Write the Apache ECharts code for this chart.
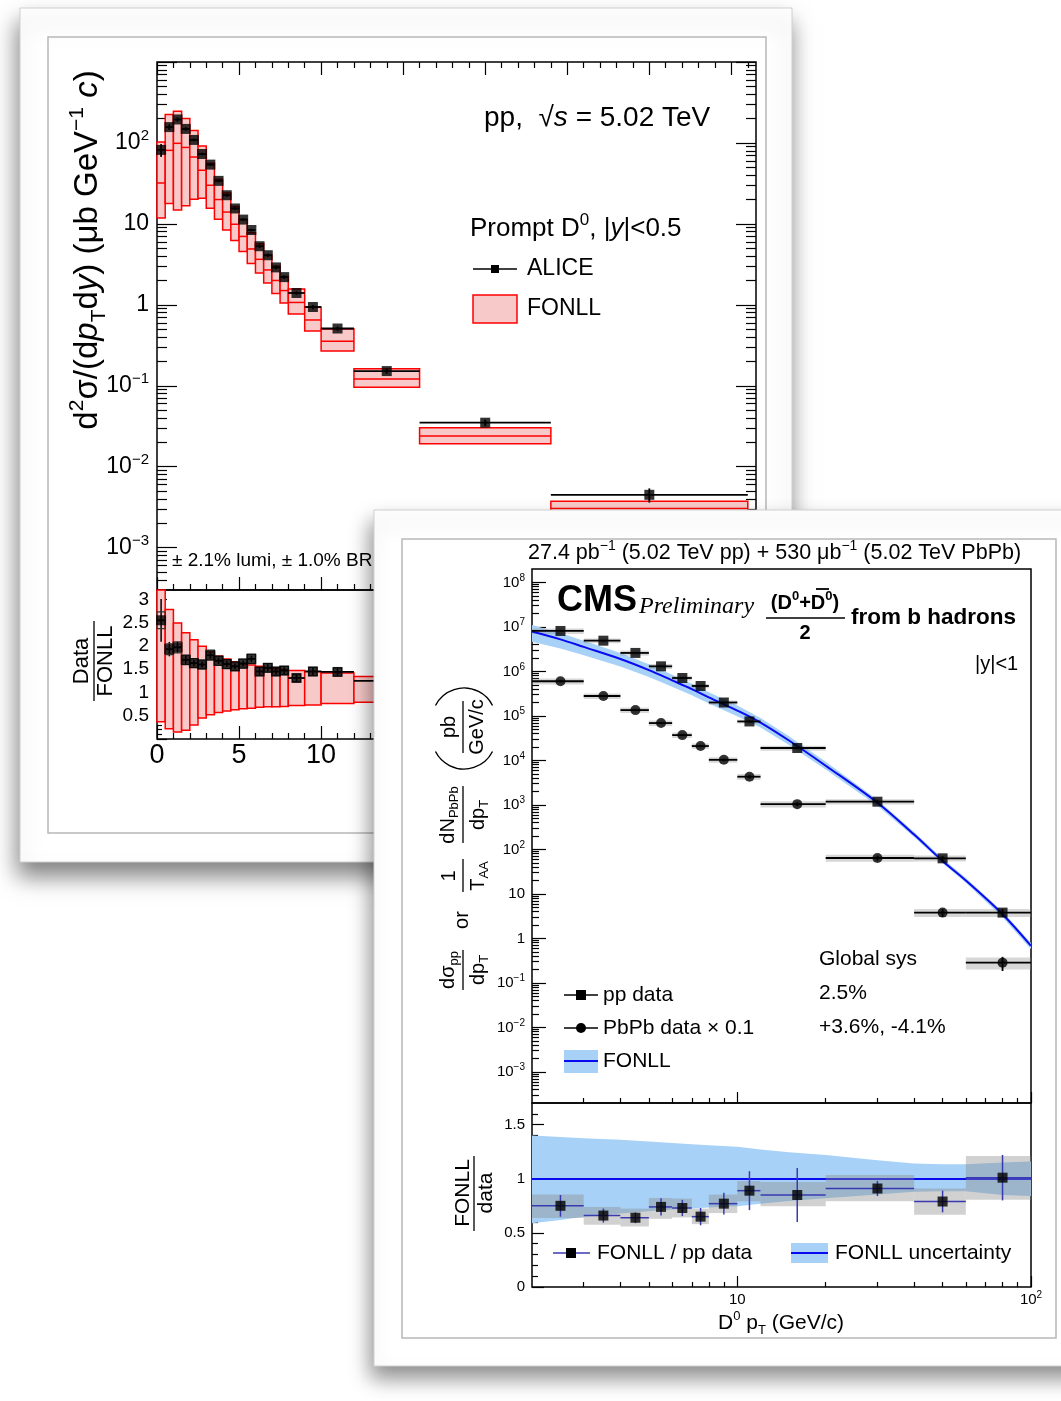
<!DOCTYPE html>
<html><head><meta charset="utf-8">
<script src="https://cdn.jsdelivr.net/npm/echarts@6/dist/echarts.min.js"></script>
<style>
html,body{margin:0;padding:0;background:#fff;}
#a,#b{position:absolute;left:0;top:0;width:1061px;height:1401px;}
</style></head><body>
<div id="a"></div><div id="b"></div>
<script>
// ================= ALICE (left card) data =================
const aliceBinLo = [0,0.5,1,1.5,2,2.5,3,3.5,4,4.5,5,5.5,6,6.5,7,7.5,8,9,10,12,16,24];
const aliceBinHi = [0.5,1,1.5,2,2.5,3,3.5,4,4.5,5,5.5,6,6.5,7,7.5,8,9,10,12,16,24,36];
const alicePt    = [0.25,0.75,1.25,1.75,2.25,2.75,3.25,3.75,4.25,4.75,5.25,5.75,6.25,6.75,7.25,7.75,8.5,9.5,11,14,20,30];
const aliceVal   = [82,157,195,149,109,73,54,34,22.6,15.5,11.3,8.4,5.3,4.1,2.9,2.2,1.4,0.94,0.51,0.152,0.035,0.0045];
const aliceErrRel= [0.18,0.08,0.06,0.05,0.04,0.04,0.04,0.04,0.04,0.04,0.04,0.04,0.05,0.05,0.05,0.05,0.05,0.06,0.06,0.07,0.09,0.2];
const aliceSysRel= [0.07,0.06,0.06,0.06,0.06,0.06,0.06,0.06,0.06,0.06,0.06,0.06,0.06,0.06,0.06,0.06,0.06,0.06,0.06,0.06,0.07,0.08];
const fonllCentral=[32,81,99,88,67,46,30,20,14,9.9,7.0,4.9,3.65,2.7,2.0,1.5,1.07,0.65,0.355,0.121,0.024,0.00305];
const fonllUpRel = [3.2,2.78,2.49,2.28,2.13,1.99,1.87,1.78,1.72,1.66,1.62,1.59,1.56,1.53,1.51,1.49,1.47,1.45,1.42,1.34,1.26,1.23];
const fonllLowRel= [0.37,0.22,0.15,0.19,0.30,0.45,0.52,0.57,0.60,0.63,0.65,0.66,0.68,0.69,0.69,0.70,0.72,0.73,0.76,0.79,0.80,0.81];
const aliceRatio = [2.55,1.93,1.97,1.70,1.63,1.60,1.80,1.68,1.61,1.56,1.62,1.72,1.45,1.53,1.45,1.47,1.31,1.45,1.44,1.25,1.46,1.47];
const leftYLabelPos = [-3,-2,-1,0,1,2];
const leftYLabels   = ['10{s|\u22123}','10{s|\u22122}','10{s|\u22121}','1','10','10{s|2}'];
const leftXLabelPos = [0,5,10,15,20,25,30,35];
const leftXLabels   = ['0','5','10','15','20','25','30','35'];
const leftRLabelPos = [0.5,1,1.5,2,2.5,3];
const leftRLabels   = ['0.5','1','1.5','2','2.5','3'];

// ================= CMS (right card) data =================
const cmsBinLo = [2,3,4,5,6,7,8,10,12,20,40,60];
const cmsBinHi = [3,4,5,6,7,8,10,12,20,40,60,100];
const cmsPt    = [2.5,3.5,4.5,5.5,6.5,7.5,9,11,16,30,50,80];
const ppVal    = [8.1e6,4.9e6,2.6e6,1.3e6,7.1e5,4.7e5,2.0e5,7.5e4,1.9e4,1.18e3,63,3.8];
const pbVal    = [6.0e5,2.8e5,1.35e5,6.9e4,3.7e4,2.1e4,1.03e4,4.3e3,1.04e3,64,3.8,0.285];
const ppErrRel = [0.03,0.03,0.03,0.03,0.03,0.04,0.04,0.05,0.06,0.08,0.12,0.2];
const pbErrRel = [0.05,0.05,0.05,0.05,0.05,0.06,0.06,0.08,0.1,0.12,0.2,0.35];
const ppSysRel = [0.14,0.12,0.13,0.13,0.12,0.11,0.11,0.10,0.13,0.13,0.15,0.20];
const pbSysRel = [0.15,0.14,0.14,0.14,0.14,0.14,0.14,0.15,0.16,0.18,0.20,0.30];
const fonllPt  = [2,2.5,3,4,5,6,7,8,10,12,15,20,30,40,50,60,80,100];
const fonllVal = [7.9e6,5.25e6,3.55e6,1.9e6,1.07e6,6.3e5,4.0e5,2.6e5,1.32e5,7.1e4,2.8e4,7.6e3,1.12e3,215,55,20,3.5,0.68];
const fonllUp  = [1.40,1.385,1.375,1.36,1.345,1.33,1.32,1.31,1.295,1.27,1.245,1.22,1.17,1.14,1.135,1.135,1.15,1.16];
const fonllLow = [0.59,0.62,0.65,0.68,0.70,0.715,0.725,0.735,0.745,0.77,0.795,0.82,0.855,0.88,0.885,0.885,0.85,0.84];
const cmsRatio    = [0.75,0.66,0.64,0.74,0.73,0.65,0.77,0.89,0.85,0.91,0.79,1.01];
const cmsRatioErr = [0.10,0.065,0.05,0.08,0.075,0.08,0.10,0.18,0.25,0.07,0.10,0.21];
const cmsRatioSysHi=[0.854,0.739,0.724,0.823,0.817,0.724,0.854,0.978,0.969,1.034,0.910,1.211];
const cmsRatioSysLo=[0.637,0.575,0.559,0.630,0.643,0.581,0.683,0.792,0.745,0.792,0.668,0.807];
const cmsYLabelPos = [-3,-2,-1,0,1,2,3,4,5,6,7,8];
const cmsYLabels   = ['10{s|\u22123}','10{s|\u22122}','10{s|\u22121}','1','10','10{s|2}','10{s|3}','10{s|4}','10{s|5}','10{s|6}','10{s|7}','10{s|8}'];
const cmsXLabelPos = [1,2];
const cmsXLabels   = ['10','10{s|2}'];
const cmsRLabelPos = [0,0.5,1,1.5];
const cmsRLabels   = ['0','0.5','1','1.5'];

// ================= helpers =================
const FF = "'Liberation Sans', Arial, Helvetica, sans-serif";
const SERIF = "'Liberation Serif', 'Times New Roman', serif";
const L10 = Math.log10;
function logMinor(lo, hi) {
  const out = [];
  for (let n = Math.floor(lo) - 1; n <= Math.ceil(hi); n++)
    for (let k = 2; k <= 9; k++) { const v = n + L10(k); if (v > lo + 1e-9 && v < hi - 1e-9) out.push(v); }
  return out;
}
function linTicks(lo, hi, step, skip) {
  const out = [];
  for (let v = lo; v <= hi + 1e-9; v += step) {
    const r = Math.round(v * 1000) / 1000;
    if (!skip || Math.abs(r / skip - Math.round(r / skip)) > 1e-6) out.push(r);
  }
  return out;
}
function richFor(size, fam, w) {
  const s = Math.round(size * 0.64);
  return {
    s: {fontSize: s, fontFamily: fam, fontWeight: w || 'normal', verticalAlign: 'top', lineHeight: s},
    b: {fontSize: s, fontFamily: fam, fontWeight: w || 'normal', verticalAlign: 'bottom', lineHeight: s},
    i: {fontSize: size, fontFamily: fam, fontStyle: 'italic', fontWeight: w || 'normal', lineHeight: Math.round(size * 1.3)}
  };
}
function T(x, y, text, o) {
  o = o || {};
  const size = o.size || 20, fam = o.family || FF;
  return {type: 'text', x, y, z: 100, rotation: o.rot || 0, silent: true,
    style: {text, fontSize: size, fontFamily: fam, fontWeight: o.weight || 'normal',
      fontStyle: o.fstyle || 'normal', fill: o.color || '#000', align: o.align || 'left',
      verticalAlign: o.va || 'middle', lineHeight: Math.round(size * 1.3), rich: richFor(size, fam, o.weight)}};
}
function Ln(x1, y1, x2, y2, color, w, z) {
  return {type: 'line', z: z || 100, silent: true, shape: {x1, y1, x2, y2}, style: {stroke: color || '#000', lineWidth: w || 1.3}};
}
const tickLS = {color: '#000', width: 1.2};
function deco(gridIndex, min, max, pos, ticks, len, label) {
  return {type: 'value', gridIndex, min, max, position: pos,
    axisLine: {show: false, onZero: false}, splitLine: {show: false},
    minorTick: {show: false}, minorSplitLine: {show: false},
    axisTick: {show: true, inside: true, length: len, customValues: ticks, lineStyle: tickLS},
    axisLabel: label ? Object.assign({show: true, color: '#000', fontFamily: FF}, label) : {show: false}};
}
function labelFrom(pos, txt, size, margin, withSup) {
  const s = Math.round(size * 0.66);
  const o = {customValues: pos, fontSize: size, margin, showMinLabel: true, showMaxLabel: true, hideOverlap: false,
    formatter: function (v) { const i = pos.findIndex(p => Math.abs(p - v) < 1e-6); return i >= 0 ? txt[i] : ''; },
    rich: {s: {fontSize: s, lineHeight: s, verticalAlign: 'top', fontFamily: FF, color: '#000'}}};
  if (withSup) o.lineHeight = Math.round(size * 1.25);
  return o;
}
function rectEl(p0, p1, style) {
  return {type: 'rect', shape: {x: Math.min(p0[0], p1[0]), y: Math.min(p0[1], p1[1]),
    width: Math.abs(p1[0] - p0[0]), height: Math.abs(p1[1] - p0[1])}, style};
}

// ================= Chart A : ALICE =================
const yMinA = 3e-4, yMaxA = 1e3;
const pinkFill = '#f8c9c9', redLine = '#ff0000';
const graphicA = [
  {type: 'rect', z: -10, silent: true, shape: {x: 20, y: 8, width: 772, height: 854},
   style: {fill: '#fff', stroke: '#cfcfcf', lineWidth: 1, shadowBlur: 22, shadowOffsetX: -2, shadowOffsetY: 14, shadowColor: 'rgba(0,0,0,0.5)'}},
  {type: 'rect', z: -9, silent: true, shape: {x: 48, y: 37, width: 718, height: 796},
   style: {fill: 'none', stroke: '#b8b8b8', lineWidth: 1.5}},
  T(484, 118, 'pp,  \u221A{i|s} = 5.02 TeV', {size: 28}),
  T(470, 229, 'Prompt D{s|0}, |{i|y}|<0.5', {size: 26}),
  Ln(473, 269, 517, 269, '#000', 1.5),
  {type: 'rect', z: 100, silent: true, shape: {x: 491, y: 265, width: 8, height: 8}, style: {fill: '#000'}},
  T(527, 269, 'ALICE', {size: 23}),
  {type: 'rect', z: 100, silent: true, shape: {x: 473, y: 295, width: 44, height: 28}, style: {fill: pinkFill, stroke: redLine, lineWidth: 1.5}},
  T(527, 309, 'FONLL', {size: 23}),
  T(172, 561, '\u00B1 2.1% lumi, \u00B1 1.0% BR', {size: 19}),
  T(88, 250, 'd{s|2}\u03C3/(d{i|p}{b|T}d{i|y}) (\u03BCb GeV{s|\u22121} {i|c})', {size: 33, rot: Math.PI / 2, align: 'center'}),
  T(82, 661, 'Data', {size: 22, rot: Math.PI / 2, align: 'center'}),
  Ln(94, 621, 94, 701, '#000', 1.3),
  T(106, 661, 'FONLL', {size: 22, rot: Math.PI / 2, align: 'center'})
];

const xA = [
  deco(0, 0, 36.5, 'bottom', linTicks(0, 35, 5), 13),
  deco(0, 0, 36.5, 'bottom', linTicks(1, 36, 1, 5), 6),
  deco(0, 0, 36.5, 'top', linTicks(0, 35, 5), 13),
  deco(0, 0, 36.5, 'top', linTicks(1, 36, 1, 5), 6),
  deco(1, 0, 36.5, 'bottom', linTicks(0, 35, 5), 13, labelFrom(leftXLabelPos, leftXLabels, 27, 3)),
  deco(1, 0, 36.5, 'bottom', linTicks(1, 36, 1, 5), 6)
];
const yA = [
  {type: 'log', gridIndex: 0, min: yMinA, max: yMaxA, show: false},
  deco(0, L10(yMinA), L10(yMaxA), 'left', [-3, -2, -1, 0, 1, 2, 3], 20, labelFrom(leftYLabelPos, leftYLabels, 23, 8, true)),
  deco(0, L10(yMinA), L10(yMaxA), 'left', logMinor(L10(yMinA), L10(yMaxA)), 10),
  deco(0, L10(yMinA), L10(yMaxA), 'right', [-3, -2, -1, 0, 1, 2, 3], 20),
  deco(0, L10(yMinA), L10(yMaxA), 'right', logMinor(L10(yMinA), L10(yMaxA)), 10),
  deco(1, 0, 3.2, 'left', linTicks(0, 3, 0.5), 10, labelFrom(leftRLabelPos, leftRLabels, 19, 8)),
  deco(1, 0, 3.2, 'left', linTicks(0.1, 3.1, 0.1, 0.5), 5)
];
xA.push({type: 'value', gridIndex: 0, min: 0, max: 36.5, show: false});   // 6
xA.push({type: 'value', gridIndex: 1, min: 0, max: 36.5, show: false});   // 7
yA.push({type: 'value', gridIndex: 1, min: 0, max: 3.2, show: false});    // 7

const seriesA = [
  { // FONLL boxes main
    type: 'custom', xAxisIndex: 6, yAxisIndex: 0, z: 2, silent: true,
    data: aliceBinLo.map((lo, i) => [lo, aliceBinHi[i], fonllCentral[i], fonllUpRel[i], fonllLowRel[i]]),
    encode: {x: [0, 1], y: 2},
    renderItem: function (p, api) {
      const lo = api.value(0), hi = api.value(1), c = api.value(2);
      const a = api.coord([lo, c * api.value(3)]), b = api.coord([hi, c * api.value(4)]);
      const m1 = api.coord([lo, c]), m2 = api.coord([hi, c]);
      return {type: 'group', children: [
        rectEl(a, b, {fill: pinkFill, stroke: redLine, lineWidth: 1.5}),
        {type: 'line', shape: {x1: m1[0], y1: m1[1], x2: m2[0], y2: m2[1]}, style: {stroke: redLine, lineWidth: 1.5}}
      ]};
    }
  },
  { // ALICE bars
    type: 'custom', xAxisIndex: 6, yAxisIndex: 0, z: 3, silent: true,
    data: aliceBinLo.map((lo, i) => [lo, aliceBinHi[i], alicePt[i], aliceVal[i], aliceErrRel[i]]),
    encode: {x: [0, 1], y: 3},
    renderItem: function (p, api) {
      const v = api.value(3), e = api.value(4), x = api.value(2);
      const a = api.coord([api.value(0), v]), b = api.coord([api.value(1), v]);
      const u = api.coord([x, v * (1 + e)]), d = api.coord([x, v * (1 - e)]);
      return {type: 'group', children: [
        {type: 'line', shape: {x1: a[0], y1: a[1], x2: b[0], y2: b[1]}, style: {stroke: '#000', lineWidth: 1.8}},
        {type: 'line', shape: {x1: u[0], y1: u[1], x2: d[0], y2: d[1]}, style: {stroke: '#000', lineWidth: 1.8}}
      ]};
    }
  },
  {type: 'scatter', xAxisIndex: 6, yAxisIndex: 0, z: 4, silent: true, symbol: 'rect', symbolSize: 10,
   itemStyle: {color: '#000'}, data: alicePt.map((x, i) => [x, aliceVal[i]])},
  { // ratio FONLL band boxes
    type: 'custom', xAxisIndex: 7, yAxisIndex: 7, z: 2, silent: true,
    data: aliceBinLo.map((lo, i) => [lo, aliceBinHi[i], fonllUpRel[i], fonllLowRel[i]]),
    encode: {x: [0, 1], y: 2},
    renderItem: function (p, api) {
      const a = api.coord([api.value(0), Math.min(api.value(2), 3.2)]), b = api.coord([api.value(1), api.value(3)]);
      return rectEl(a, b, {fill: pinkFill, stroke: redLine, lineWidth: 1.5});
    }
  },
  { // ratio data bars + syst boxes
    type: 'custom', xAxisIndex: 7, yAxisIndex: 7, z: 3, silent: true,
    data: aliceBinLo.map((lo, i) => [lo, aliceBinHi[i], alicePt[i], aliceRatio[i], aliceErrRel[i], aliceSysRel[i]]),
    encode: {x: [0, 1], y: 3},
    renderItem: function (p, api) {
      const x = api.value(2), r = api.value(3), e = api.value(4) * r, s = api.value(5) * r;
      const a = api.coord([api.value(0), r]), b = api.coord([api.value(1), r]);
      const u = api.coord([x, r + e]), d = api.coord([x, r - e]);
      const s0 = api.coord([x - 0.25, r + s]), s1 = api.coord([x + 0.25, r - s]);
      return {type: 'group', children: [
        {type: 'line', shape: {x1: a[0], y1: a[1], x2: b[0], y2: b[1]}, style: {stroke: '#000', lineWidth: 1.8}},
        {type: 'line', shape: {x1: u[0], y1: u[1], x2: d[0], y2: d[1]}, style: {stroke: '#000', lineWidth: 1.5}},
        rectEl(s0, s1, {fill: 'none', stroke: '#333', lineWidth: 1.2})
      ]};
    }
  },
  {type: 'scatter', xAxisIndex: 7, yAxisIndex: 7, z: 4, silent: true, symbol: 'rect', symbolSize: 10,
   itemStyle: {color: '#000'}, data: alicePt.map((x, i) => [x, aliceRatio[i]]),
   markLine: {silent: true, symbol: 'none', label: {show: false}, z: 2,
     lineStyle: {color: '#000', width: 1.2, type: [5, 4]}, data: [{yAxis: 1}]}}
];

const chartA = echarts.init(document.getElementById('a'));
chartA.setOption({
  animation: false,
  graphic: {elements: graphicA},
  grid: [
    {left: 157, top: 62, width: 599, height: 528, show: true, borderColor: '#000', borderWidth: 1.5, backgroundColor: 'transparent'},
    {left: 157, top: 590, width: 599, height: 149, show: true, borderColor: '#000', borderWidth: 1.5, backgroundColor: 'transparent'}
  ],
  xAxis: xA, yAxis: yA, series: seriesA
});

// ================= Chart B : CMS =================
const yMinB = 2e-4, yMaxB = 2e8;
const bandBlue = '#a7d1f6', lineBlue = '#0a0af0', errBlue = '#3a3ab0';
const graphicB = [
  {type: 'rect', z: -10, silent: true, shape: {x: 374, y: 510, width: 740, height: 856},
   style: {fill: '#fff', stroke: '#cfcfcf', lineWidth: 1, shadowBlur: 20, shadowOffsetX: -3, shadowOffsetY: 12, shadowColor: 'rgba(0,0,0,0.45)'}},
  {type: 'rect', z: -9, silent: true, shape: {x: 402, y: 539, width: 654, height: 799},
   style: {fill: 'none', stroke: '#b8b8b8', lineWidth: 1.5}},
  T(528, 553, '27.4 pb{s|\u22121} (5.02 TeV pp) + 530 \u03BCb{s|\u22121} (5.02 TeV PbPb)', {size: 21.5}),
  T(557, 601, 'CMS', {size: 36, weight: 'bold'}),
  T(639, 607, 'Preliminary', {size: 24, family: SERIF, fstyle: 'italic'}),
  T(805, 603, '(D{s|0}+D{s|0})', {size: 20, weight: 'bold', align: 'center'}),
  Ln(816, 589, 829, 589, '#000', 1.8),
  Ln(766, 618, 845, 618, '#000', 1.6),
  T(805, 633, '2', {size: 20, weight: 'bold', align: 'center'}),
  T(851, 618, 'from b hadrons', {size: 22.5, weight: 'bold'}),
  T(975, 664, '|y|<1', {size: 20}),
  T(819, 959, 'Global sys', {size: 21}),
  T(819, 993, '2.5%', {size: 21}),
  T(819, 1027, '+3.6%, -4.1%', {size: 21}),
  Ln(564, 995, 598, 995, '#000', 1.5),
  {type: 'rect', z: 100, silent: true, shape: {x: 576, y: 990, width: 10, height: 10}, style: {fill: '#000'}},
  T(603, 995, 'pp data', {size: 21}),
  Ln(564, 1028, 598, 1028, '#000', 1.5),
  {type: 'circle', z: 100, silent: true, shape: {cx: 581, cy: 1028, r: 5}, style: {fill: '#000'}},
  T(603, 1028, 'PbPb data \u00D7 0.1', {size: 21}),
  {type: 'rect', z: 100, silent: true, shape: {x: 564, y: 1050, width: 34, height: 23}, style: {fill: bandBlue}},
  Ln(564, 1061, 598, 1061, lineBlue, 2),
  T(603, 1061, 'FONLL', {size: 21}),
  Ln(553, 1253, 590, 1253, errBlue, 1.5),
  {type: 'rect', z: 100, silent: true, shape: {x: 566, y: 1248, width: 10, height: 10}, style: {fill: '#000'}},
  T(597, 1253, 'FONLL / pp data', {size: 21}),
  {type: 'rect', z: 100, silent: true, shape: {x: 791, y: 1243, width: 37, height: 20}, style: {fill: bandBlue}},
  Ln(791, 1253, 828, 1253, lineBlue, 2),
  T(835, 1253, 'FONLL uncertainty', {size: 21}),
  T(781, 1323, 'D{s|0} p{b|T} (GeV/c)', {size: 21, align: 'center'}),
  // ratio y title
  T(463, 1193, 'FONLL', {size: 21, rot: Math.PI / 2, align: 'center'}),
  Ln(474, 1156, 474, 1231, '#000', 1.3),
  T(486, 1193, 'data', {size: 21, rot: Math.PI / 2, align: 'center'}),
  // main y title (rotated group)
  {type: 'group', x: 463, y: 990, rotation: Math.PI / 2, z: 100, silent: true, children: [
    T(20, -15, 'd\u03C3{b|pp}', {size: 20, align: 'center'}),
    Ln(0, 0, 40, 0, '#000', 1.3),
    T(20, 15, 'dp{b|T}', {size: 20, align: 'center'}),
    T(70, -1, 'or', {size: 20, align: 'center'}),
    T(114, -14, '1', {size: 20, align: 'center'}),
    Ln(98, 0, 131, 0, '#000', 1.3),
    T(114, 15, 'T{b|AA}', {size: 20, align: 'center'}),
    T(175, -15, 'dN{b|PbPb}', {size: 20, align: 'center'}),
    Ln(147, 0, 204, 0, '#000', 1.3),
    T(175, 15, 'dp{b|T}', {size: 20, align: 'center'}),
    T(263, -14, 'pb', {size: 20, align: 'center'}),
    Ln(237, 0, 289, 0, '#000', 1.3),
    T(263, 14, 'GeV/c', {size: 20, align: 'center'})
  ]},
  {type: 'arc', z: 100, silent: true, shape: {cx: 464, cy: 720, r: 32, startAngle: Math.PI * 1.15, endAngle: Math.PI * 1.85, clockwise: true}, style: {stroke: '#000', lineWidth: 1.4, fill: 'none'}},
  {type: 'arc', z: 100, silent: true, shape: {cx: 464, cy: 737, r: 32, startAngle: Math.PI * 0.15, endAngle: Math.PI * 0.85, clockwise: true}, style: {stroke: '#000', lineWidth: 1.4, fill: 'none'}}
];

const lx0 = L10(2), lx1 = 2;
const xB = [
  {type: 'log', gridIndex: 0, min: 2, max: 100, show: false},                 // 0 data main
  deco(0, lx0, lx1, 'bottom', [1, 2], 11),                                       // 1
  deco(0, lx0, lx1, 'bottom', logMinor(lx0, lx1), 5),                            // 2
  {type: 'log', gridIndex: 1, min: 2, max: 100, show: false},                 // 3 data ratio
  deco(1, lx0, lx1, 'bottom', [1, 2], 11, labelFrom(cmsXLabelPos, cmsXLabels, 15, 3, true)), // 4
  deco(1, lx0, lx1, 'bottom', logMinor(lx0, lx1), 5)                             // 5
];
const yB = [
  {type: 'log', gridIndex: 0, min: yMinB, max: yMaxB, show: false},           // 0 data main
  deco(0, L10(yMinB), L10(yMaxB), 'left', cmsYLabelPos, 14, labelFrom(cmsYLabelPos, cmsYLabels, 15, 7, true)), // 1
  deco(0, L10(yMinB), L10(yMaxB), 'left', logMinor(L10(yMinB), L10(yMaxB)), 7), // 2
  {type: 'value', gridIndex: 1, min: 0, max: 1.7, show: false},               // 3 data ratio
  deco(1, 0, 1.7, 'left', [0, 0.5, 1, 1.5], 12, labelFrom(cmsRLabelPos, cmsRLabels, 15, 7)), // 4
  deco(1, 0, 1.7, 'left', linTicks(0.1, 1.6, 0.1, 0.5), 6)                      // 5
];

function cmsBars(vals, errRel, color) {
  return {
    type: 'custom', xAxisIndex: 0, yAxisIndex: 0, z: 4, silent: true,
    data: cmsBinLo.map((lo, i) => [lo, cmsBinHi[i], cmsPt[i], vals[i], errRel[i]]),
    encode: {x: [0, 1], y: 3},
    renderItem: function (p, api) {
      const v = api.value(3), e = api.value(4), x = api.value(2);
      const a = api.coord([api.value(0), v]), b = api.coord([api.value(1), v]);
      const u = api.coord([x, v * (1 + e)]), d = api.coord([x, v * (1 - e)]);
      return {type: 'group', children: [
        {type: 'line', shape: {x1: a[0], y1: a[1], x2: b[0], y2: b[1]}, style: {stroke: color, lineWidth: 1.8}},
        {type: 'line', shape: {x1: u[0], y1: u[1], x2: d[0], y2: d[1]}, style: {stroke: color, lineWidth: 1.8}}
      ]};
    }
  };
}
function cmsSys(vals, sysRel) {
  return {
    type: 'custom', xAxisIndex: 0, yAxisIndex: 0, z: 3, silent: true,
    data: cmsBinLo.map((lo, i) => [lo, cmsBinHi[i], vals[i], sysRel[i]]),
    encode: {x: [0, 1], y: 2},
    renderItem: function (p, api) {
      const v = api.value(2), s = api.value(3);
      return rectEl(api.coord([api.value(0), v * (1 + s)]), api.coord([api.value(1), v * (1 - s)]),
        {fill: 'rgba(140,140,140,0.35)'});
    }
  };
}

const seriesB = [
  { // FONLL band main
    type: 'custom', xAxisIndex: 0, yAxisIndex: 0, z: 2, silent: true,
    data: [[fonllPt[0], fonllVal[0]]], encode: {x: 0, y: 1},
    renderItem: function (p, api) {
      const up = fonllPt.map((x, i) => api.coord([x, fonllVal[i] * fonllUp[i]]));
      const dn = fonllPt.map((x, i) => api.coord([x, fonllVal[i] * fonllLow[i]])).reverse();
      return {type: 'polygon', shape: {points: up.concat(dn)}, style: {fill: bandBlue}};
    }
  },
  {type: 'line', xAxisIndex: 0, yAxisIndex: 0, z: 3, silent: true, smooth: 0.35, showSymbol: false, symbol: 'none',
   lineStyle: {color: lineBlue, width: 2}, data: fonllPt.map((x, i) => [x, fonllVal[i]])},
  cmsSys(ppVal, ppSysRel),
  cmsSys(pbVal, pbSysRel),
  cmsBars(ppVal, ppErrRel, '#000'),
  cmsBars(pbVal, pbErrRel, '#000'),
  {type: 'scatter', xAxisIndex: 0, yAxisIndex: 0, z: 5, silent: true, symbol: 'rect', symbolSize: 10,
   itemStyle: {color: '#000'}, data: cmsPt.map((x, i) => [x, ppVal[i]])},
  {type: 'scatter', xAxisIndex: 0, yAxisIndex: 0, z: 5, silent: true, symbol: 'circle', symbolSize: 10,
   itemStyle: {color: '#000'}, data: cmsPt.map((x, i) => [x, pbVal[i]])},
  { // ratio band
    type: 'custom', xAxisIndex: 3, yAxisIndex: 3, z: 2, silent: true,
    data: [[fonllPt[0], 1]], encode: {x: 0, y: 1},
    renderItem: function (p, api) {
      const up = fonllPt.map((x, i) => api.coord([x, fonllUp[i]]));
      const dn = fonllPt.map((x, i) => api.coord([x, fonllLow[i]])).reverse();
      return {type: 'polygon', shape: {points: up.concat(dn)}, style: {fill: bandBlue}};
    }
  },
  { // ratio syst boxes + error bars
    type: 'custom', xAxisIndex: 3, yAxisIndex: 3, z: 4, silent: true,
    data: cmsBinLo.map((lo, i) => [lo, cmsBinHi[i], cmsPt[i], cmsRatio[i], cmsRatioErr[i], cmsRatioSysHi[i], cmsRatioSysLo[i]]),
    encode: {x: [0, 1], y: 3},
    renderItem: function (p, api) {
      const x = api.value(2), r = api.value(3), e = api.value(4);
      const a = api.coord([api.value(0), r]), b = api.coord([api.value(1), r]);
      const u = api.coord([x, r + e]), d = api.coord([x, r - e]);
      return {type: 'group', children: [
        rectEl(api.coord([api.value(0), api.value(5)]), api.coord([api.value(1), api.value(6)]), {fill: 'rgba(140,140,140,0.4)'}),
        {type: 'line', shape: {x1: a[0], y1: a[1], x2: b[0], y2: b[1]}, style: {stroke: errBlue, lineWidth: 1.5}},
        {type: 'line', shape: {x1: u[0], y1: u[1], x2: d[0], y2: d[1]}, style: {stroke: errBlue, lineWidth: 1.5}}
      ]};
    }
  },
  {type: 'scatter', xAxisIndex: 3, yAxisIndex: 3, z: 5, silent: true, symbol: 'rect', symbolSize: 10,
   itemStyle: {color: '#000'}, data: cmsPt.map((x, i) => [x, cmsRatio[i]]),
   markLine: {silent: true, symbol: 'none', label: {show: false}, z: 3,
     lineStyle: {color: lineBlue, width: 2, type: 'solid'}, data: [{yAxis: 1}]}}
];

const chartB = echarts.init(document.getElementById('b'));
chartB.setOption({
  animation: false,
  graphic: {elements: graphicB},
  grid: [
    {left: 532, top: 569, width: 499, height: 534, show: true, borderColor: '#000', borderWidth: 1.5, backgroundColor: 'transparent'},
    {left: 532, top: 1103, width: 499, height: 184, show: true, borderColor: '#000', borderWidth: 1.5, backgroundColor: 'transparent'}
  ],
  xAxis: xB, yAxis: yB, series: seriesB
});
</script>
</body></html>
